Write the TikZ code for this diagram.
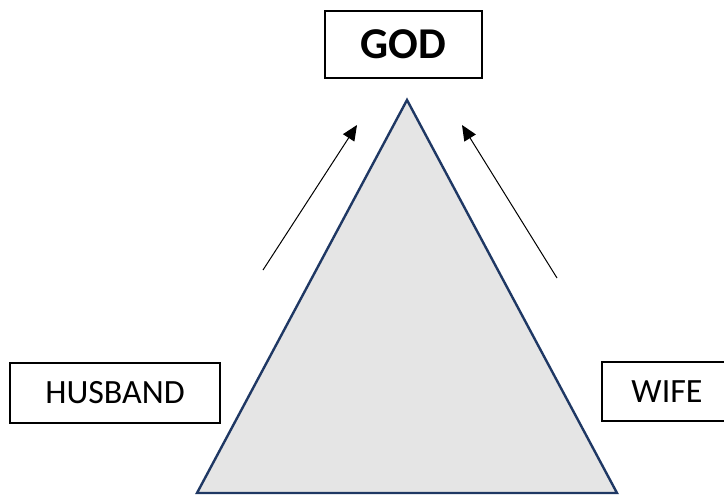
\documentclass[tikz,border=0pt]{standalone}
\usepackage{fontspec}
\setmainfont{Carlito}
\usetikzlibrary{arrows.meta}
\definecolor{trinavy}{HTML}{1F3864}
\definecolor{trigray}{HTML}{E5E5E5}
\begin{document}
\begin{tikzpicture}[x=0.75pt, y=-0.75pt, >={Triangle[length=11.5pt, width=10pt]},
		box/.style={draw, line width=0.8pt, inner sep=0pt, font=\fontsize{25.5}{30}\selectfont},
		pyramid/.style={draw=trinavy, fill=trigray, line width=1.8pt, line join=miter}]
		\clip (0,0) rectangle (724,496);
		% triangle
		\coordinate (top) at (407,100);
		\coordinate (bl) at (197,493);
		\coordinate (br) at (617,493);
		\draw[pyramid] (top) -- (bl) -- (br) -- cycle;
		% labels
		\node[box, minimum width=117.75pt, minimum height=50.25pt, font=\fontsize{33}{38}\selectfont\bfseries] (god) at (403.5,44.5) {GOD};
		\node[box, minimum width=157.5pt, minimum height=45pt] (husband) at (115,393) {HUSBAND};
		\node[box, minimum width=97.5pt, minimum height=44.25pt] (wife) at (667,391.5) {WIFE};
		% arrows
		\coordinate (hfrom) at (263,270);
		\coordinate (hto) at (357,125);
		\coordinate (wfrom) at (557,278);
		\coordinate (wto) at (462,125);
		\draw[->, line width=0.75pt] (hfrom) -- (hto);
		\draw[->, line width=0.75pt] (wfrom) -- (wto);
	\end{tikzpicture}
\end{document}
